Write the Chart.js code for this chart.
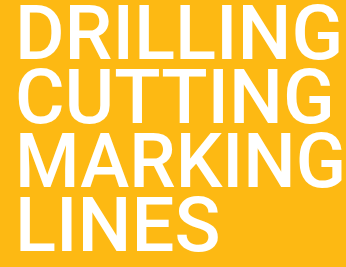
<!DOCTYPE html>
<html>
<head>
<meta charset="utf-8">
<script src="https://cdn.jsdelivr.net/npm/chart.js@4/dist/chart.umd.min.js"></script>
<style>
html,body{margin:0;padding:0;background:#FDB913;}
#wrap{width:346px;height:267px;position:relative;overflow:hidden;}
</style>
</head>
<body>
<div id="wrap"><canvas id="c"></canvas></div>
<script>
const titleLines = ['DRILLING', 'CUTTING', 'MARKING', 'LINES'];
const categories = [];
const values = [];

const bg = {
  id: 'bg',
  beforeDraw(chart) {
    const ctx = chart.ctx;
    ctx.save();
    ctx.fillStyle = '#FDB913';
    ctx.fillRect(0, 0, chart.width, chart.height);
    ctx.restore();
  }
};

new Chart(document.getElementById('c'), {
  type: 'bar',
  data: { labels: categories, datasets: [{ data: values }] },
  options: {
    responsive: true,
    maintainAspectRatio: false,
    animation: false,
    layout: { padding: { left: 15, right: 0, top: 0, bottom: 0 } },
    scales: { x: { display: false }, y: { display: false } },
    plugins: {
      legend: { display: false },
      tooltip: { enabled: false },
      title: {
        display: true,
        text: titleLines,
        align: 'start',
        color: '#ffffff',
        font: { family: 'Roboto, "DejaVu Sans Condensed", sans-serif', size: 76, weight: '500', lineHeight: 0.842 },
        padding: { top: 8, bottom: 0 }
      }
    }
  },
  plugins: [bg]
});
</script>
</body>
</html>
